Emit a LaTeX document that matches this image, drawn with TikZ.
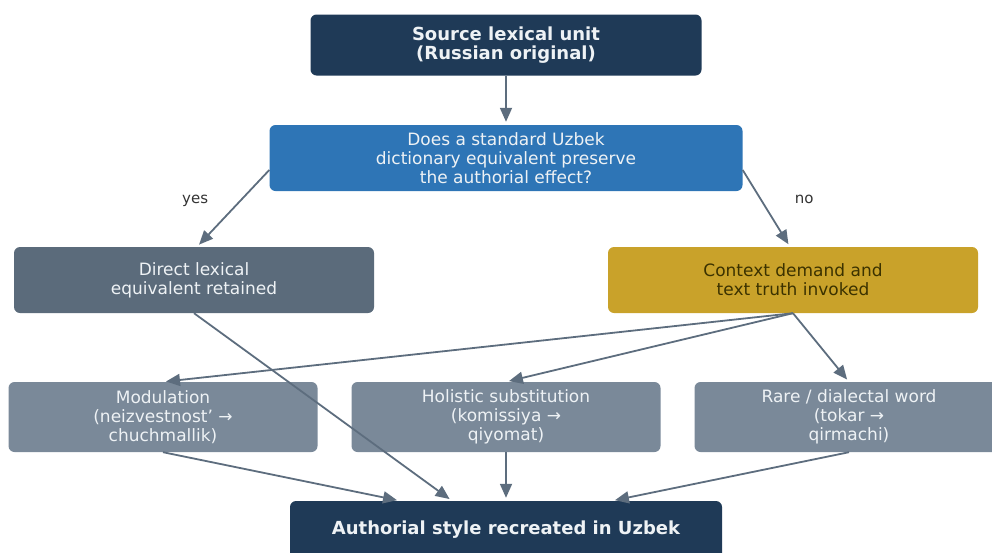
\documentclass[tikz,border=0pt]{standalone}
\usepackage{fontspec}
\setmainfont{DejaVu Sans}
\usepackage{tikz}
\usetikzlibrary{arrows.meta,positioning}

\definecolor{navy}{HTML}{1F3A57}
\definecolor{qblue}{HTML}{2E75B6}
\definecolor{slate}{HTML}{5B6B7B}
\definecolor{gold}{HTML}{C9A22A}
\definecolor{stratgrey}{HTML}{7A8999}
\definecolor{edgegrey}{HTML}{5D6D7E}
\definecolor{boxtext}{HTML}{EEF2F5}
\definecolor{oliveText}{HTML}{3B3200}

\begin{document}
\begin{tikzpicture}[x=1pt,y=-1pt,node distance=113pt,
    box/.style={rectangle,rounded corners=6pt,inner sep=0pt,align=center,
      text=boxtext,font=\fontsize{17}{19}\selectfont},
    title/.style={box,fill=navy,font=\fontsize{18}{19}\selectfont\bfseries},
    question/.style={box,fill=qblue,minimum width=473pt,minimum height=66pt},
    outcome/.style={box,minimum height=66pt},
    strategy/.style={box,fill=stratgrey,minimum width=309pt,minimum height=70pt},
    flow/.style={every edge/.style={draw=edgegrey,line width=1.8pt,
      -{Triangle[length=14pt,width=12pt]},shorten >=3pt}},
    answer/.style={text=black!80,font=\fontsize{15}{17}\selectfont}]
    \useasboundingbox (0,0) rectangle (992,552);
    \node[title,minimum width=391pt,minimum height=61pt] (src) at (506,45)
      {Source lexical unit\\(Russian original)};
    \node[question] (q) [below of=src]
      {Does a standard Uzbek\\dictionary equivalent preserve\\the authorial effect?};
    \node[outcome,fill=slate,minimum width=360pt] (direct)
      [below of=q,node distance=122pt,xshift=-312pt]
      {Direct lexical\\equivalent retained};
    \node[outcome,fill=gold,text=oliveText,minimum width=370pt] (ctx)
      [below of=q,node distance=122pt,xshift=287pt]
      {Context demand and\\text truth invoked};
    \node[strategy] (hol) [below of=q,node distance=259pt]
      {Holistic substitution\\(komissiya →\\qiyomat)};
    \node[strategy] (mod) [left of=hol,node distance=343pt]
      {Modulation\\(neizvestnost’ →\\chuchmallik)};
    \node[strategy] (rare) [right of=hol,node distance=343pt]
      {Rare / dialectal word\\(tokar →\\qirmachi)};
    \node[title,minimum width=432pt,minimum height=58pt] (res) [below of=hol]
      {Authorial style recreated in Uzbek};
    \path[flow]
    (src) edge (q)
    ([yshift=-12pt]q.west) edge node[answer,pos=0.4,left=28pt] {yes} ([xshift=3pt]direct.north)
    ([yshift=-12pt]q.east) edge node[answer,pos=0.38,right=30pt] {no} ([xshift=-3pt]ctx.north)
    (direct.south) edge ([xshift=-54pt]res.north)
    (ctx.south) edge (mod.north)
    (ctx.south) edge (hol.north)
    (ctx.south) edge (rare.north)
    (mod.south) edge ([xshift=-106pt]res.north)
    (hol) edge (res)
    (rare.south) edge ([xshift=106pt]res.north)
    ;
  \end{tikzpicture}
\end{document}
